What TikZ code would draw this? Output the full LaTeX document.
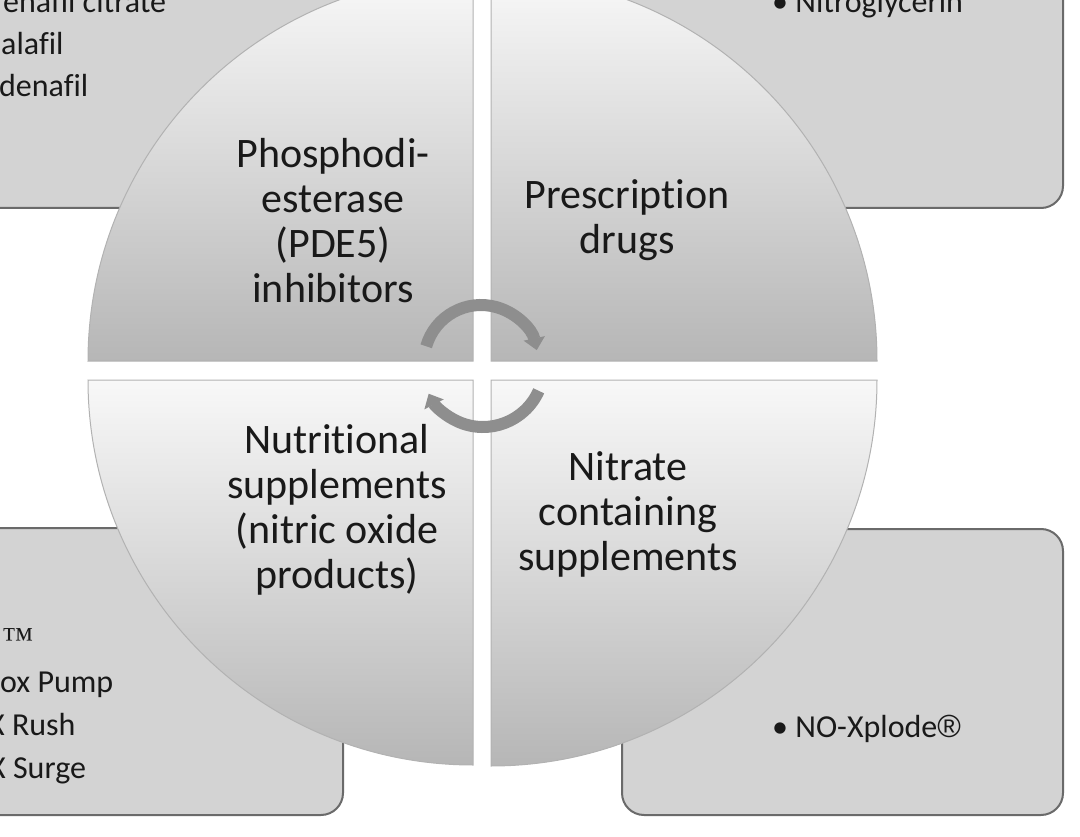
\documentclass[tikz,border=0pt]{standalone}
\usepackage{fontspec}
\setmainfont{Carlito}[Ligatures=NoCommon]
\newfontfamily\tmfont{Liberation Serif}
\newfontfamily\regfont{Liberation Sans}
\usetikzlibrary{arrows.meta}
\definecolor{boxfill}{HTML}{D3D3D3}
\definecolor{boxline}{HTML}{6A6A6A}
\definecolor{quartop}{HTML}{F8F8F8}
\definecolor{quarbot}{HTML}{B6B6B6}
\definecolor{arrowgray}{HTML}{8E8E8E}
\tikzset{
  listbox/.style={draw=boxline,line width=2pt,fill=boxfill,rounded corners=22pt},
  quarter/.style={draw=black!30,line width=1pt,top color=quartop,bottom color=quarbot},
  quartxt/.style={align=center,inner sep=0pt,text=black!90,font=\fontsize{42}{45}\selectfont},
  listitem/.style={anchor=base west,inner sep=0pt,text=black!90,font=\fontsize{32}{38}\selectfont},
  turn/.style={draw=arrowgray,line width=12pt,-{Triangle[length=12pt,width=21pt]}},
}

\begin{document}
\begin{tikzpicture}[x=1pt,y=1pt]
  \useasboundingbox (0,0) rectangle (1080,-837);
  \clip (0,0) rectangle (1080,-837);
  \draw[listbox] (-300,60) rectangle (420,-208);
  \draw[listbox] (560,60) rectangle (1063,-208);
  \draw[listbox] (-300,-528) rectangle (343,-815);
  \draw[listbox] (622,-529) rectangle (1063,-815);
  \node[listitem] (sil) at (3,-13) {enafil citrate};
  \node[listitem] (tad) at (1,-55) {alafil};
  \node[listitem] (var) at (-1,-97) {denafil};
  \node[listitem] (nitro) at (772,-13) {• Nitroglycerin};
  \node[listitem] (tm) at (2,-649) {\tmfont ™};
  \node[listitem] (pump) at (0,-692) {ox Pump};
  \node[listitem] (rush) at (-12,-735) {X Rush};
  \node[listitem] (surge) at (-11,-778) {X Surge};
  \node[listitem] (xplode) at (772,-737) {• NO-Xplode{\regfont ®}};
  \path[quarter] (473,-361) -- (88,-361) arc[start angle=180,end angle=90,radius=385] -- cycle;
  \path[quarter] (491,-361) -- (491,25) arc[start angle=90,end angle=0,radius=386] -- cycle;
  \path[quarter] (473,-380) -- (473,-765) arc[start angle=270,end angle=180,radius=385] -- cycle;
  \path[quarter] (491,-380) -- (877,-380) arc[start angle=0,end angle=-90,radius=386] -- cycle;
  \node[quartxt] (pde) at (333,-221) {Phosphodi-\\esterase\\(PDE5)\\inhibitors};
  \node[quartxt] (rx) at (627,-220) {Prescription\\drugs};
  \node[quartxt] (nutri) at (337,-510) {Nutritional\\supplements\\(nitric oxide\\products)};
  \node[quartxt] (nitrate) at (628,-514) {Nitrate\\containing\\supplements};
  \coordinate (hubtop) at (481,-362);
  \coordinate (hubbot) at (483,-366);
  \draw[turn] (hubtop) ++(164:57) arc[start angle=164,end angle=12,radius=57];
  \draw[turn] (hubbot) ++(-24:61) arc[start angle=-24,end angle=-153,radius=61];
\end{tikzpicture}
\end{document}
